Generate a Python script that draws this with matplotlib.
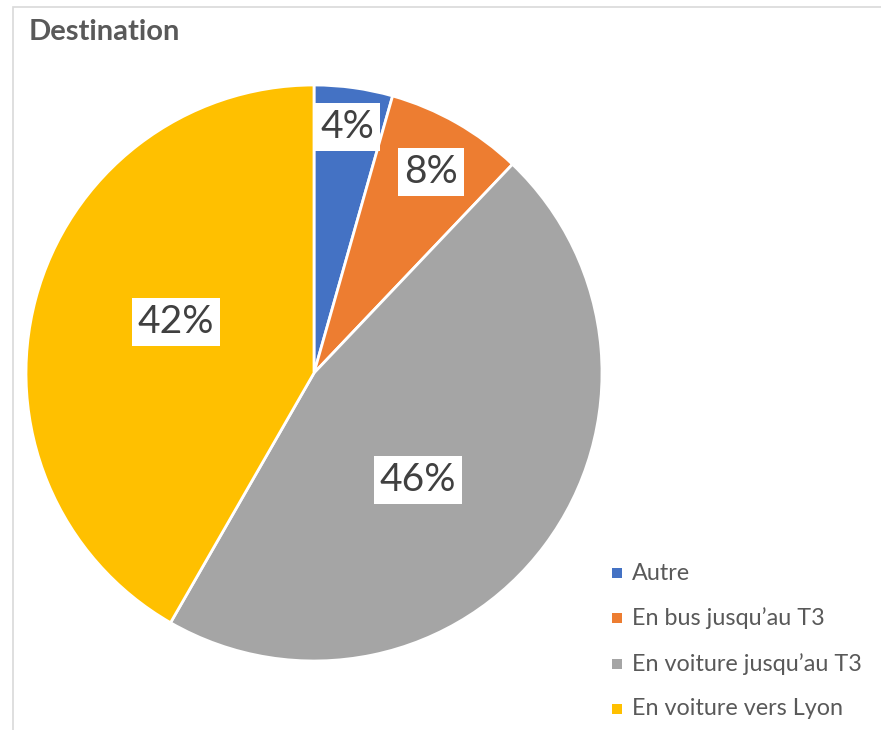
import matplotlib.pyplot as plt
from matplotlib.patches import Rectangle

labels = ['Autre', 'En bus jusqu\u2019au T3', 'En voiture jusqu\u2019au T3', 'En voiture vers Lyon']
values = [4.4, 7.7, 46.2, 41.7]
pct_text = ['4%', '8%', '46%', '42%']
colors = ['#4472C4', '#ED7D31', '#A5A5A5', '#FFC000']
# label centres in pie-radius units (Excel "best fit" placement)
label_pos = [(0.115, 0.854), (0.406, 0.698), (0.361, -0.372), (-0.479, 0.177)]

plt.rcParams['font.family'] = ['Lato', 'DejaVu Sans']

W, H = 881, 730
fig = plt.figure(figsize=(W / 100, H / 100), dpi=100)

# chart frame
fig.patches.append(Rectangle((13 / W, -0.1), 1.0, (H - 7) / H + 0.1, transform=fig.transFigure,
                             fill=False, edgecolor='#D9D9D9', linewidth=1.2))

fig.text(29 / W, 1 - 32 / H, 'Destination', fontsize=21, fontweight='bold',
         color='#595959', va='center', ha='left')

ax = fig.add_axes([26 / W, (H - 661) / H, 576 / W, 576 / H])
wedges, _ = ax.pie(values, colors=colors, startangle=90, counterclock=False,
                   wedgeprops=dict(edgecolor='white', linewidth=2))
ax.set_xlim(-1, 1)
ax.set_ylim(-1, 1)
ax.set_aspect('equal')
ax.axis('off')

for t, (x, y) in zip(pct_text, label_pos):
    ax.text(x, y, t, ha='center', va='center', fontsize=28, color='#404040',
            bbox=dict(boxstyle='square,pad=0.15', facecolor='white', edgecolor='none'))

# legend
for i, (lab, c) in enumerate(zip(labels, colors)):
    y = 1 - (573 + 45.3 * i) / H
    fig.patches.append(Rectangle((612 / W, y - 5 / H), 10 / W, 10 / H,
                                 transform=fig.transFigure, facecolor=c, edgecolor='none'))
    fig.text(632 / W, y, lab, fontsize=16.8, color='#595959', va='center', ha='left')

fig.savefig('out.png', dpi=100)
